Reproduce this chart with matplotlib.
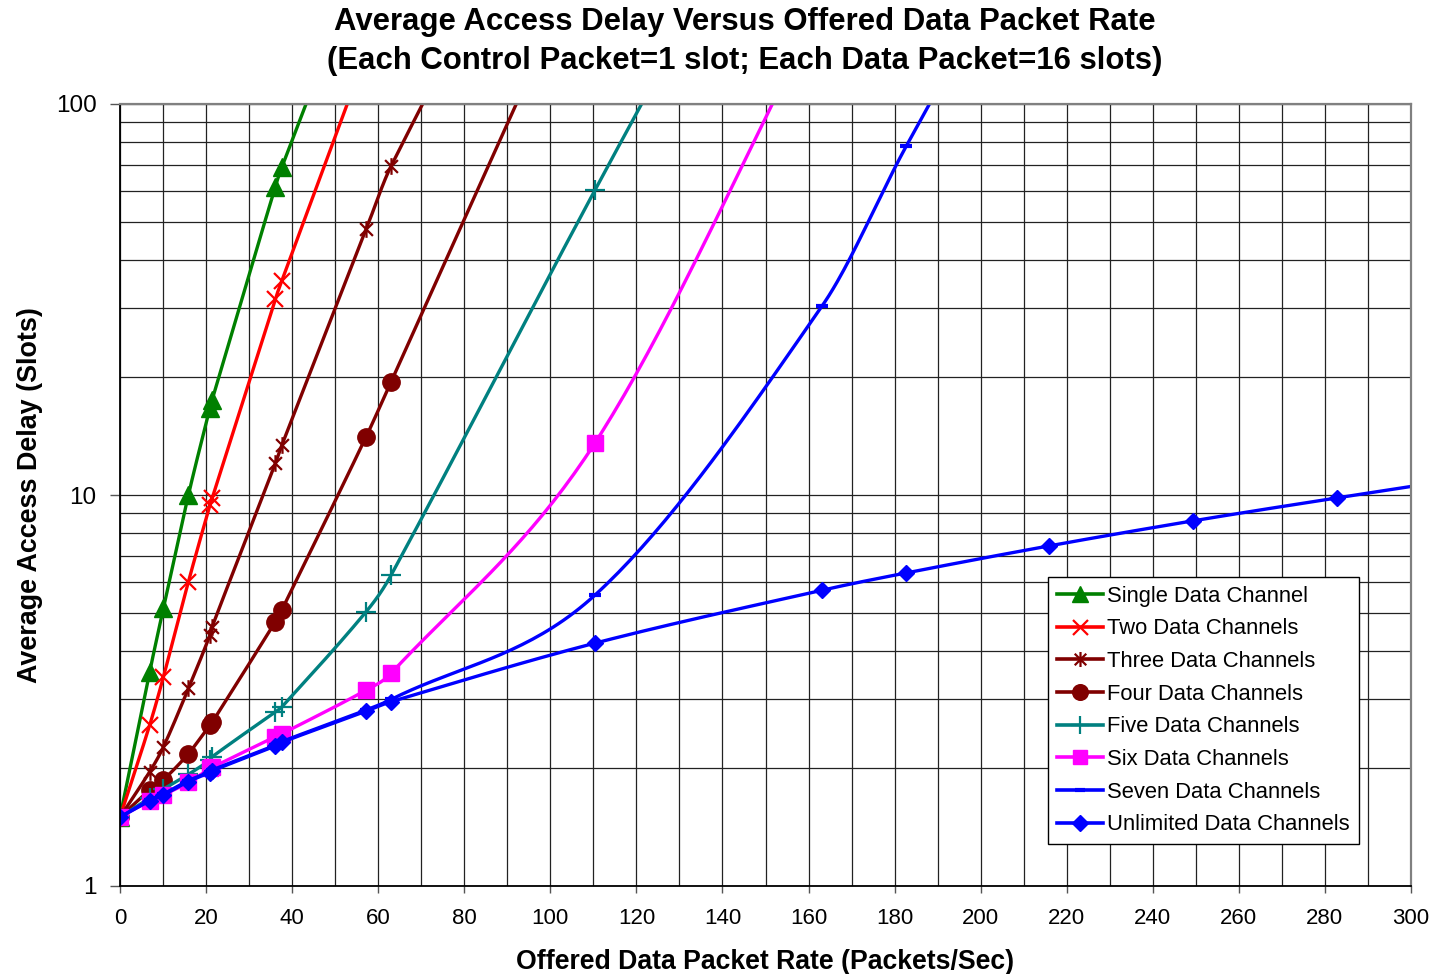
import numpy as np
import matplotlib
matplotlib.use('Agg')
import matplotlib.pyplot as plt
from matplotlib.lines import Line2D
from matplotlib.path import Path
from matplotlib.ticker import FixedLocator, NullFormatter, LogLocator

plt.rcParams['font.family'] = ['Liberation Sans', 'DejaVu Sans']

# offered data packet rate (packets/sec), shared by every series
rate = [0, 6.9, 10.1, 15.9, 20.9, 21.4, 36.1, 37.6, 57.2, 63.0,
        110.4, 163.2, 182.7, 215.9, 249.4, 282.8, 316.2]

# average access delay (slots); each series stops once it leaves the chart
single = [1.5, 3.53, 5.14, 10.0, 16.7, 17.5, 61.5, 68.9, 250]
two = [1.5, 2.58, 3.43, 6.0, 9.43, 9.8, 31.7, 35.3, 135]
three = [1.5, 1.96, 2.27, 3.20, 4.38, 4.6, 12.05, 13.4, 47.8, 69.4, 700]
four = [1.5, 1.76, 1.87, 2.18, 2.58, 2.62, 4.74, 5.08, 14.1, 19.5, 280]
five = [1.5, 1.68, 1.77, 1.93, 2.10, 2.14, 2.79, 2.87, 5.03, 6.24, 60.3, 700]
six = [1.5, 1.65, 1.71, 1.84, 2.00, 2.01, 2.41, 2.45, 3.17, 3.50, 13.6, 180]
seven = [1.5, 1.66, 1.72, 1.86, 1.96, 1.98, 2.29, 2.34, 2.82, 3.00,
         5.55, 30.5, 78, 350]
unlimited = [1.5, 1.65, 1.71, 1.85, 1.95, 1.97, 2.28, 2.33, 2.80, 2.96,
             4.18, 5.71, 6.32, 7.41, 8.59, 9.83, 11.2]

labels = ['Single Data Channel', 'Two Data Channels', 'Three Data Channels',
          'Four Data Channels', 'Five Data Channels', 'Six Data Channels',
          'Seven Data Channels', 'Unlimited Data Channels']

# asterisk: an x with a vertical bar through it
asterisk = Path([(-1, -1), (1, 1), (-1, 1), (1, -1), (0, -1.3), (0, 1.3)],
                [Path.MOVETO, Path.LINETO] * 3)

styles = [
    dict(color='#008000', marker='^', ms=13, mew=1),
    dict(color='#FF0000', marker='x', ms=12, mew=1.6),
    dict(color='#800000', marker=asterisk, ms=12, mew=1.6),
    dict(color='#800000', marker='o', ms=12.5, mew=1),
    dict(color='#008080', marker='+', ms=14, mew=1.6),
    dict(color='#FF00FF', marker='s', ms=11.5, mew=1),
    dict(color='#0000FF', marker='_', ms=8, mew=3),
    dict(color='#0000FF', marker='D', ms=8.5, mew=1),
]


def smooth(x, y, n=40):
    # cubic hermite through the points in (x, log y), like a smoothed line
    x = np.asarray(x, float)
    ly = np.log10(np.asarray(y, float))
    m = np.empty_like(ly)
    m[1:-1] = (ly[2:] - ly[:-2]) / (x[2:] - x[:-2])
    m[0] = (ly[1] - ly[0]) / (x[1] - x[0])
    m[-1] = (ly[-1] - ly[-2]) / (x[-1] - x[-2])
    xs, ys = [], []
    for i in range(len(x) - 1):
        h = x[i + 1] - x[i]
        t = np.linspace(0, 1, n)
        h00 = 2 * t**3 - 3 * t**2 + 1
        h10 = t**3 - 2 * t**2 + t
        h01 = -2 * t**3 + 3 * t**2
        h11 = t**3 - t**2
        xs.append(x[i] + t * h)
        ys.append(h00 * ly[i] + h10 * h * m[i] + h01 * ly[i + 1] + h11 * h * m[i + 1])
    return np.concatenate(xs), 10 ** np.concatenate(ys)


fig = plt.figure(figsize=(14.33, 9.74), dpi=100)
ax = fig.add_axes([120 / 1433, 88 / 974, 1291 / 1433, 782 / 974])

series = [single, two, three, four, five, six, seven, unlimited]
handles = []
for vals, st, lab in zip(series, styles, labels):
    xr = rate[:len(vals)]
    sx, sy = smooth(xr, vals)
    ax.plot(sx, sy, color=st['color'], lw=2.4, solid_capstyle='butt')
    ax.plot(xr, vals, ls='none', marker=st['marker'], ms=st['ms'],
            mew=st['mew'], color=st['color'], mec=st['color'])
    handles.append(Line2D([], [], color=st['color'], lw=2.6,
                          marker=st['marker'], ms=st['ms'] * 0.9,
                          mew=st['mew'], mec=st['color']))

ax.set_yscale('log')
ax.set_xlim(0, 300)
ax.set_ylim(1, 100)

ax.xaxis.set_major_locator(FixedLocator(np.arange(0, 301, 20)))
ax.xaxis.set_minor_locator(FixedLocator(np.arange(0, 301, 10)))
ax.yaxis.set_major_locator(FixedLocator([1, 10, 100]))
ax.yaxis.set_minor_locator(LogLocator(base=10, subs=np.arange(2, 10)))
ax.yaxis.set_minor_formatter(NullFormatter())
ax.set_yticklabels(['1', '10', '100'])

ax.grid(which='both', color='#222222', lw=0.9)
ax.set_axisbelow(True)

ax.tick_params(axis='x', which='major', direction='out', length=5, width=1,
               color='#555555', labelsize=16, pad=11)
ax.tick_params(axis='y', which='major', direction='out', length=7, width=1,
               color='#555555', labelsize=17.5, pad=10)
ax.tick_params(which='minor', length=0)

for side in ['left', 'bottom']:
    ax.spines[side].set_color('black')
    ax.spines[side].set_linewidth(1.3)
for side in ['right', 'top']:
    ax.spines[side].set_color('#808080')
    ax.spines[side].set_linewidth(1.6)

ax.set_xlabel('Offered Data Packet Rate (Packets/Sec)', fontsize=19.2,
              fontweight='bold', labelpad=14)
ax.set_ylabel('Average Access Delay (Slots)', fontsize=19.4,
              fontweight='bold', labelpad=9)

fig.text(0.5195, 1 - 22 / 974, 'Average Access Delay Versus Offered Data Packet Rate',
         ha='center', va='center', fontsize=22.4, fontweight='bold')
fig.text(0.5195, 1 - 61 / 974, '(Each Control Packet=1 slot; Each Data Packet=16 slots)',
         ha='center', va='center', fontsize=22.4, fontweight='bold')

leg = ax.legend(handles, labels, loc='upper left',
                bbox_to_anchor=(1048 / 1433, 1 - 577 / 974),
                bbox_transform=fig.transFigure, fontsize=15.8,
                frameon=True, fancybox=False, framealpha=1,
                edgecolor='black', handlelength=2.1, handletextpad=0.2,
                labelspacing=0.53, borderpad=0.4, borderaxespad=0)
leg.get_frame().set_linewidth(1.0)

fig.savefig('out.png', dpi=100)
